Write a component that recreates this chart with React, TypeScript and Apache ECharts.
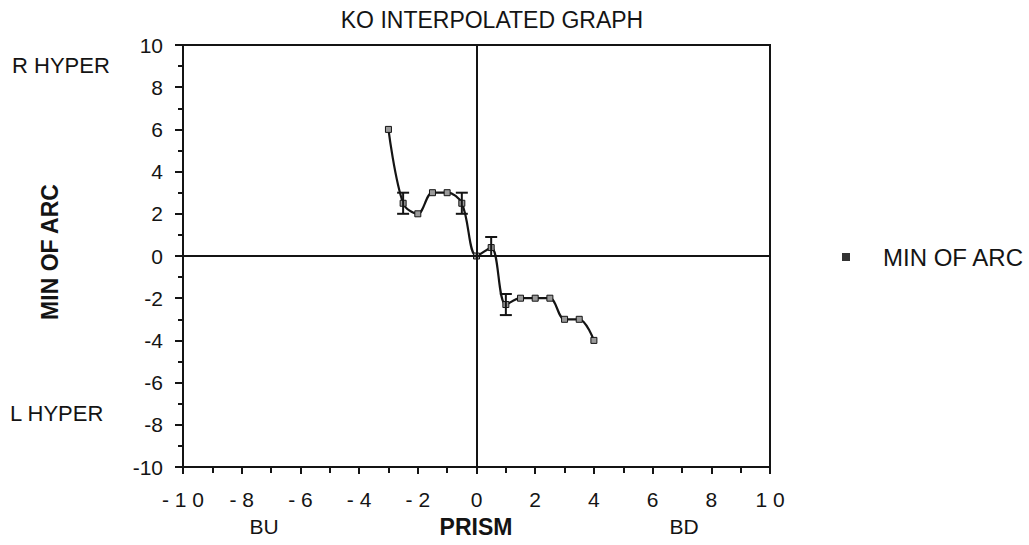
import React, { useEffect, useRef } from "react";
import * as echarts from "echarts";

// Prism (x) vs minutes of arc (y), sampled every half prism dioptre
const prismValues = [-3, -2.5, -2, -1.5, -1, -0.5, 0, 0.5, 1, 1.5, 2, 2.5, 3, 3.5, 4];
const arcValues = [6, 2.5, 2, 3, 3, 2.5, 0, 0.4, -2.3, -2, -2, -2, -3, -3, -4];

// Error bars: prism position, low, high
const errX = [-2.5, -0.5, 0.5, 1];
const errLow = [2, 2, 0, -2.8];
const errHigh = [3, 3, 0.9, -1.8];

const xTicks = [-10, -8, -6, -4, -2, 0, 2, 4, 6, 8, 10];
const yTicks = [-10, -8, -6, -4, -2, 0, 2, 4, 6, 8, 10];

const seriesName = "MIN OF ARC";
const FONT = "'Liberation Sans', Arial, Helvetica, sans-serif";
const INK = "#141414";

export default function App() {
  const ref = useRef<HTMLDivElement>(null);

  useEffect(() => {
    if (!ref.current) return;
    const chart = echarts.init(ref.current, undefined, { renderer: "svg" });

    const points = prismValues.map((x, i) => [x, arcValues[i]]);
    const errData = errX.map((x, i) => [x, errLow[i], errHigh[i]]);

    chart.setOption({
      animation: false,
      backgroundColor: "#ffffff",
      textStyle: { fontFamily: FONT, color: INK },
      title: {
        text: "KO INTERPOLATED GRAPH",
        left: 487,
        top: 3,
        textAlign: "center",
        textStyle: { fontFamily: FONT, fontSize: 23, fontWeight: "normal", color: INK },
      },
      grid: {
        left: 183,
        right: 259,
        top: 45,
        bottom: 78,
        show: true,
        borderColor: INK,
        borderWidth: 2,
        backgroundColor: "transparent",
      },
      xAxis: {
        type: "value",
        min: -10,
        max: 10,
        interval: 2,
        axisLine: { show: true, onZero: false, lineStyle: { color: INK, width: 2 } },
        axisTick: { show: true, inside: false, length: 7, lineStyle: { color: INK, width: 2 } },
        minorTick: { show: true, splitNumber: 2, length: 6, lineStyle: { color: INK, width: 2 } },
        splitLine: { show: false },
        axisLabel: {
          fontFamily: FONT,
          fontSize: 21,
          color: INK,
          margin: 22,
          customValues: xTicks,
          formatter: (v: number) => String(v).split("").join(" "),
        },
      },
      yAxis: {
        type: "value",
        min: -10,
        max: 10,
        interval: 2,
        axisLine: { show: true, onZero: false, lineStyle: { color: INK, width: 2 } },
        axisTick: { show: true, inside: false, length: 8, lineStyle: { color: INK, width: 2 } },
        minorTick: { show: true, splitNumber: 2, length: 5, lineStyle: { color: INK, width: 2 } },
        splitLine: { show: false },
        axisLabel: {
          fontFamily: FONT,
          fontSize: 21,
          color: INK,
          margin: 20,
          customValues: yTicks,
        },
      },
      series: [
        {
          name: seriesName,
          type: "line",
          data: points,
          smooth: 0.35,
          symbol: "rect",
          symbolSize: 6,
          lineStyle: { color: INK, width: 2.2 },
          itemStyle: { color: "#9a9a9a", borderColor: INK, borderWidth: 1 },
          markLine: {
            silent: true,
            symbol: "none",
            label: { show: false },
            lineStyle: { color: INK, width: 2, type: "solid" },
            data: [{ xAxis: 0 }, { yAxis: 0 }],
          },
          z: 3,
        },
        {
          name: "error",
          type: "custom",
          data: errData,
          z: 4,
          renderItem: (params: any, api: any) => {
            const x = api.value(0);
            const lo = api.coord([x, api.value(1)]);
            const hi = api.coord([x, api.value(2)]);
            const hw = 6;
            const style = { stroke: INK, lineWidth: 2 };
            return {
              type: "group",
              children: [
                { type: "line", shape: { x1: lo[0], y1: lo[1], x2: hi[0], y2: hi[1] }, style },
                { type: "line", shape: { x1: lo[0] - hw, y1: lo[1], x2: lo[0] + hw, y2: lo[1] }, style },
                { type: "line", shape: { x1: hi[0] - hw, y1: hi[1], x2: hi[0] + hw, y2: hi[1] }, style },
              ],
            };
          },
        },
      ],
      graphic: [
        {
          type: "text",
          x: 50,
          y: 252,
          rotation: Math.PI / 2,
          style: {
            text: seriesName,
            fontFamily: FONT,
            fontSize: 23,
            fontWeight: "bold",
            fill: INK,
            align: "center",
            verticalAlign: "middle",
          },
        },
        { type: "text", x: 12, y: 65, style: { text: "R HYPER", fontFamily: FONT, fontSize: 22, fill: INK, verticalAlign: "middle" } },
        { type: "text", x: 10, y: 413, style: { text: "L HYPER", fontFamily: FONT, fontSize: 22, fill: INK, verticalAlign: "middle" } },
        { type: "text", x: 264, y: 526, style: { text: "BU", fontFamily: FONT, fontSize: 21, fill: INK, align: "center", verticalAlign: "middle" } },
        { type: "text", x: 476, y: 527, style: { text: "PRISM", fontFamily: FONT, fontSize: 23, fontWeight: "bold", fill: INK, align: "center", verticalAlign: "middle" } },
        { type: "text", x: 684, y: 526, style: { text: "BD", fontFamily: FONT, fontSize: 21, fill: INK, align: "center", verticalAlign: "middle" } },
        { type: "rect", shape: { x: 842, y: 253, width: 8, height: 8 }, style: { fill: "#333" } },
        { type: "text", x: 883, y: 257, style: { text: seriesName, fontFamily: FONT, fontSize: 24, fill: INK, verticalAlign: "middle" } },
      ],
    });

    return () => chart.dispose();
  }, []);

  return (
    <div
      ref={ref}
      style={{ position: "fixed", left: 0, top: 0, width: 1029, height: 545, background: "#fff" }}
    />
  );
}
